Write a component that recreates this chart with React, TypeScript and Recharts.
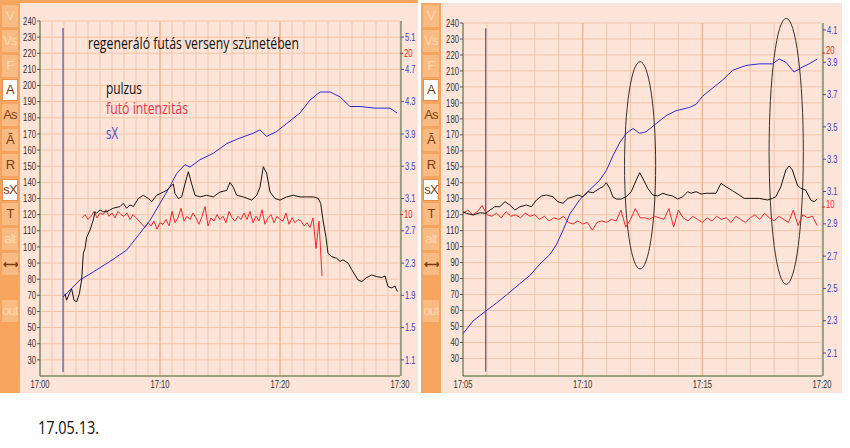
import React from "react";
import {
  ComposedChart,
  Line,
  XAxis,
  YAxis,
  CartesianGrid,
  ReferenceLine,
  ReferenceArea,
} from "recharts";

// közös tengelyek
const pulseTicks = [30, 40, 50, 60, 70, 80, 90, 100, 110, 120, 130, 140, 150, 160, 170, 180, 190, 200, 210, 220, 230, 240];
const intensityTicks = [10, 20];

// bal grafikon: 17:00 - 17:30, idő = perc 17:00 után
const leftTimeTicks = [0, 10, 20, 30];
const leftTimeLabels = ["17:00", "17:10", "17:20", "17:30"];
const leftSxTicks = [1.1, 1.5, 1.9, 2.3, 2.7, 3.1, 3.5, 3.9, 4.3, 4.7, 5.1];

const leftPulseTime = [
  2.08, 2.22, 2.44, 2.64, 2.83, 3.06, 3.28, 3.47, 3.61, 3.75,
  3.89, 4.17, 4.44, 4.58, 4.72, 5.0, 5.28, 5.56, 6.11, 6.67,
  6.94, 7.22, 7.5, 7.78, 8.19, 8.61, 9.03, 9.31, 9.72, 10.0,
  10.56, 10.83, 11.11, 11.25, 11.53, 11.81, 12.08, 12.36, 12.64, 12.92,
  13.33, 13.89, 14.44, 15.0, 15.56, 15.83, 16.11, 16.39, 16.94, 17.64,
  18.06, 18.33, 18.61, 18.89, 19.17, 19.58, 20.0, 20.56, 21.11, 21.67,
  22.22, 22.78, 23.19, 23.39, 23.58, 23.83, 24.0, 24.31, 24.72, 25.0,
  25.25, 25.67, 25.97, 26.25, 26.5, 26.81, 27.22, 27.64, 28.06, 28.47,
  28.75, 29.0, 29.31, 29.58, 29.78,
];
const leftPulse = [
  71, 67, 71, 74, 67, 66, 71, 79.5, 96, 99,
  106, 110.5, 116.7, 121.8, 120.9, 122.9, 121.8, 121.8, 124, 125,
  127, 124, 126, 125, 130, 132, 130, 128, 132, 133,
  135, 137, 139, 133, 130, 131, 139, 146.6, 139, 132,
  131, 132, 131, 134, 135, 140, 137, 132, 131, 129,
  132, 137, 149.7, 145.6, 134, 130, 129, 131, 132, 131,
  131, 131, 130, 127, 116.7, 106, 96, 94, 93, 91,
  92, 90, 86, 82.6, 79.5, 78.5, 81, 82.6, 81.6, 81,
  82, 75.4, 74.6, 75.8, 72.3,
];

const leftSxTime = [
  1.92, 3.33, 4.44, 5.83, 7.22, 8.33, 9.17, 10.0, 10.83, 11.39,
  12.08, 12.5, 13.33, 14.44, 15.56, 16.67, 17.78, 18.33, 18.89, 19.72,
  20.56, 21.67, 22.5, 23.33, 24.17, 25.0, 25.83, 26.67, 27.92, 29.17, 29.75,
];
const leftSx = [
  1.88, 2.09, 2.19, 2.32, 2.46, 2.67, 2.83, 3.04, 3.25, 3.41,
  3.52, 3.49, 3.58, 3.66, 3.78, 3.85, 3.91, 3.95, 3.87, 3.93,
  4.03, 4.16, 4.32, 4.42, 4.42, 4.36, 4.24, 4.24, 4.22, 4.22, 4.16,
];

// futó intenzitás 17:03.5-től negyedpercenként
const leftIntensityStart = 3.5;
const leftIntensityStep = 0.25;
const leftIntensity = [
  9.8, 10.0, 9.7, 9.9, 10.2, 9.8, 10.1, 10.0, 10.3, 9.9,
  10.1, 9.8, 10.2, 10.0, 9.9, 10.1, 9.7, 10.0, 9.8, 9.6,
  9.4, 9.2, 9.5, 9.3, 9.6, 9.1, 9.5, 9.4, 9.7, 9.3,
  10.2, 9.5, 9.8, 10.4, 9.6, 9.9, 9.7, 10.1, 9.8, 9.4,
  9.9, 10.5, 9.3, 9.8, 9.6, 10.0, 9.7, 9.9, 9.5, 10.2,
  9.8, 9.6, 9.9, 9.7, 10.1, 9.7, 10.2, 9.5, 9.9, 9.6,
  10.3, 9.4, 9.8, 10.0, 9.5, 9.9, 9.7, 9.6, 10.1, 9.4,
  9.8, 9.5, 9.7, 9.6, 9.3, 9.5, 9.2, 9.8, 7.9, 9.6,
  6.2,
];
const leftCursor = { t: 1.92, from: 22.5, to: 235.7 };

// jobb grafikon: 17:05 - 17:20
const rightTimeTicks = [5, 10, 15, 20];
const rightTimeLabels = ["17:05", "17:10", "17:15", "17:20"];
const rightSxTicks = [2.1, 2.3, 2.5, 2.7, 2.9, 3.1, 3.3, 3.5, 3.7, 3.9, 4.1];

const rightPulseTime = [
  5.0, 5.15, 5.43, 5.71, 5.95, 6.13, 6.33, 6.54, 6.75, 6.96,
  7.17, 7.38, 7.65, 7.86, 8.07, 8.28, 8.49, 8.76, 8.97, 9.18,
  9.39, 9.6, 9.8, 10.01, 10.22, 10.43, 10.71, 10.85, 10.99, 11.13,
  11.26, 11.4, 11.61, 11.82, 12.03, 12.24, 12.38, 12.51, 12.72, 12.93,
  13.14, 13.35, 13.56, 13.76, 13.97, 14.18, 14.39, 14.53, 14.74, 14.95,
  15.15, 15.57, 15.78, 15.99, 16.26, 16.54, 16.75, 17.03, 17.38, 17.72,
  17.93, 18.07, 18.28, 18.49, 18.63, 18.76, 18.97, 19.11, 19.32, 19.53,
  19.67, 19.8,
];
const rightPulse = [
  121.8, 120.8, 119.8, 121.2, 120.8, 122.9, 125, 125, 128.1, 126,
  122.9, 125, 126, 125, 129.2, 131.7, 132.3, 131.2, 128.1, 127.1,
  130.2, 131.2, 132.3, 131.2, 134.4, 133.7, 136.5, 137.5, 140, 136.5,
  131.2, 129.8, 129.8, 131.2, 134.4, 141.7, 146.3, 142.8, 136.5, 132.3,
  131.7, 133.4, 132.3, 131.7, 129.8, 131.2, 134.4, 133.4, 134.4, 132.9,
  133.4, 133.4, 139.6, 137.5, 135, 132.3, 130.2, 130.2, 130.2, 129.2,
  130.2, 131.2, 137.5, 148, 150.5, 148, 138.6, 136.5, 135.4, 129.2,
  128.1, 129.8,
];

const rightSxTime = [
  5.0, 5.43, 5.95, 6.4, 6.82, 7.38, 7.79, 8.21, 8.63, 8.9,
  9.18, 9.46, 9.88, 10.29, 10.71, 10.99, 11.26, 11.54, 11.82, 12.1,
  12.38, 12.65, 13.07, 13.49, 13.9, 14.46, 14.74, 15.01, 15.43, 15.85,
  16.26, 16.82, 17.38, 17.93, 18.21, 18.49, 18.83, 19.18, 19.46, 19.8,
];
const rightSx = [
  2.22, 2.3, 2.36, 2.41, 2.46, 2.53, 2.58, 2.65, 2.71, 2.77,
  2.86, 2.96, 3.05, 3.11, 3.17, 3.23, 3.32, 3.4, 3.46, 3.49,
  3.46, 3.47, 3.52, 3.57, 3.6, 3.62, 3.64, 3.69, 3.74, 3.79,
  3.85, 3.88, 3.89, 3.89, 3.92, 3.9, 3.84, 3.87, 3.89, 3.92,
];

const rightIntensityStart = 5.0;
const rightIntensityStep = 0.2;
const rightIntensity = [
  9.6, 9.8, 9.5, 9.7, 10.1, 9.5, 9.4, 9.6, 9.3, 9.7,
  9.4, 9.5, 9.3, 9.6, 9.4, 9.5, 9.2, 9.4, 9.1, 9.3,
  9.2, 9.4, 9.0, 8.9, 9.1, 8.9, 9.0, 8.5, 9.0, 9.1,
  9.0, 9.2, 9.1, 9.8, 8.7, 9.2, 9.9, 9.3, 9.3, 9.2,
  9.4, 9.3, 9.2, 9.9, 8.7, 9.8, 9.3, 9.1, 9.4, 9.2,
  9.0, 9.3, 9.1, 9.4, 9.2, 9.3, 9.0, 9.4, 9.2, 9.0,
  9.3, 9.5, 9.2, 9.6, 9.3, 9.1, 9.4, 9.2, 9.0, 9.8,
  8.8, 9.5, 9.3, 9.4, 8.8,
];
const rightCursor = { t: 5.95, from: 21.7, to: 236.7 };
const rightEllipses = [
  { t1: 11.75, t2: 13.05, p1: 86, p2: 215.8 },
  { t1: 17.79, t2: 19.22, p1: 76.4, p2: 242.9 },
];

const sideLabels = ["V", "Vs", "F", "A", "As", "Ā", "R", "sX", "T", "alt", "⟷", "out"];
const sideStates = ["off", "off", "off", "sel", "on", "on", "on", "sel", "on", "off", "on", "off"];

const PINK = "#fde4d8";
const ORANGE = "#f6a45e";
const GREEN = "#3d6b3d";
const RED = "#ee2a2a";
const BLUE = "#2c2cd8";
const TICK_FONT = "'Liberation Sans', Arial, sans-serif";
const TEXT_FONT = "'Open Sans', 'Noto Sans', sans-serif";

type Pt = { t: number; v: number };

function zip(times: number[], values: number[]): Pt[] {
  return times.map((t, i) => ({ t, v: values[i] }));
}

function sampled(start: number, step: number, values: number[]): Pt[] {
  return values.map((v, i) => ({ t: start + i * step, v }));
}

function textWidth(s: string) {
  let w = 0;
  for (const c of s) w += c >= "0" && c <= "9" ? 4.3 : 1.9;
  return w;
}

function AxisText({ x, y, anchor, dy, color, text }: any) {
  return (
    <text
      x={x}
      y={y}
      dy={dy}
      textAnchor={anchor}
      fill={color}
      fontSize={10.5}
      fontFamily={TICK_FONT}
      textLength={textWidth(text)}
      lengthAdjust="spacingAndGlyphs"
    >
      {text}
    </text>
  );
}

const yTick = (color: string, fmt: (v: number) => string, shift = 0) => (p: any) => (
  <AxisText x={p.x} y={p.y + shift} anchor={p.textAnchor} dy="0.35em" color={color} text={fmt(p.payload.value)} />
);

function Panel(props: any) {
  const {
    width, height, top, leftW, rightW, timeDomain, majors, labels, redShift,
    pulseDomain, sxDomain, sxTicks, intDomain, pulse, sx, intensity, cursor, ellipses,
  } = props;

  const minutes: number[] = [];
  for (let m = timeDomain[0]; m <= timeDomain[1]; m++) minutes.push(m);

  const timeTick = (p: any) => {
    const i = majors.indexOf(p.payload.value);
    if (i < 0) return <g />;
    return <AxisText x={p.x} y={p.y} anchor="middle" dy="0.71em" color="#333" text={labels[i]} />;
  };

  // két jobb oldali tengely egymás mellett: az intenzitás 1px széles, az sX viszi a helyet
  return (
    <ComposedChart width={width} height={height} margin={{ top, right: 6, bottom: 0, left: 0 }}>
      <CartesianGrid yAxisId="hr" stroke="#f4c6aa" />
      {majors.slice(1, -1).map((m: number) => (
        <ReferenceLine key={m} x={m} yAxisId="hr" stroke="#eeae84" />
      ))}
      <XAxis
        type="number"
        dataKey="t"
        domain={timeDomain}
        ticks={minutes}
        interval={0}
        height={17}
        tickSize={0}
        tickMargin={5}
        axisLine={{ stroke: GREEN }}
        tickLine={false}
        tick={timeTick}
      />
      <YAxis
        yAxisId="hr"
        domain={pulseDomain}
        ticks={pulseTicks}
        interval={0}
        width={leftW}
        tickSize={3}
        tickMargin={1}
        axisLine={{ stroke: GREEN }}
        tickLine={{ stroke: "#555" }}
        tick={yTick("#333", (v) => String(v))}
      />
      <YAxis
        yAxisId="int"
        orientation="right"
        domain={intDomain}
        ticks={intensityTicks}
        interval={0}
        width={1}
        tickSize={3}
        tickMargin={1}
        axisLine={false}
        tickLine={{ stroke: RED }}
        tick={yTick(RED, (v) => String(v), redShift)}
      />
      <YAxis
        yAxisId="sx"
        orientation="right"
        domain={sxDomain}
        ticks={sxTicks}
        interval={0}
        width={rightW - 1}
        tickSize={3}
        tickMargin={1}
        axisLine={{ stroke: GREEN }}
        tickLine={{ stroke: "#4646c8" }}
        tick={yTick("#3c3cd0", (v) => v.toFixed(1))}
      />
      {ellipses.map((e: any, i: number) => (
        <ReferenceArea
          key={i}
          yAxisId="hr"
          x1={e.t1}
          x2={e.t2}
          y1={e.p1}
          y2={e.p2}
          ifOverflow="visible"
          shape={(s: any) => (
            <ellipse
              cx={s.x + s.width / 2}
              cy={s.y + s.height / 2}
              rx={Math.abs(s.width) / 2}
              ry={Math.abs(s.height) / 2}
              fill="none"
              stroke="#333"
              strokeWidth={1}
            />
          )}
        />
      ))}
      <ReferenceLine
        yAxisId="hr"
        segment={[{ x: cursor.t, y: cursor.from }, { x: cursor.t, y: cursor.to }]}
        stroke="#3434a8"
      />
      <Line data={intensity} dataKey="v" yAxisId="int" type="linear" dot={false} stroke={RED} strokeWidth={1} isAnimationActive={false} />
      <Line data={sx} dataKey="v" yAxisId="sx" type="linear" dot={false} stroke={BLUE} strokeWidth={1} isAnimationActive={false} />
      <Line data={pulse} dataKey="v" yAxisId="hr" type="linear" dot={false} stroke="#151515" strokeWidth={1} isAnimationActive={false} />
    </ComposedChart>
  );
}

function Sidebar({ left, top, height }: { left: number; top: number; height: number }) {
  return (
    <div style={{ position: "absolute", left, top, width: 20, height, background: ORANGE }}>
      {sideLabels.map((label, i) => {
        const state = sideStates[i];
        const y = (i < 11 ? 5 + i * 24.8 : 300) - top;
        const sel = state === "sel";
        const arrow = label === "⟷";
        return (
          <div
            key={label}
            style={{
              position: "absolute",
              left: 2,
              top: y,
              width: sel ? 14 : 16,
              height: sel ? 20 : 22,
              background: sel ? "#ffffff" : "#f9bb84",
              border: sel ? "1px solid #e39050" : "none",
              color: state === "off" ? "#fdd6ae" : "#7c3c10",
              fontFamily: "'Liberation Sans', Arial, sans-serif",
              fontSize: arrow ? 11 : 13,
              fontWeight: arrow ? 700 : 400,
              lineHeight: sel ? "20px" : "22px",
              textAlign: "center",
              letterSpacing: arrow ? -2 : -0.8,
              overflow: "hidden",
            }}
          >
            {label}
          </div>
        );
      })}
    </div>
  );
}

export default function App() {
  return (
    <div style={{ position: "absolute", left: 0, top: 0, width: 850, height: 448, background: "#fff", overflow: "hidden" }}>
      <div style={{ position: "absolute", left: 0, top: 0, width: 418, height: 393, background: PINK }} />
      <div style={{ position: "absolute", left: 0, top: 0, width: 418, height: 3, background: ORANGE }} />
      <Sidebar left={0} top={0} height={393} />
      <div style={{ position: "absolute", left: 20, top: 3 }}>
        <Panel
          width={404}
          height={390}
          top={18}
          leftW={20}
          rightW={18}
          redShift={0}
          timeDomain={[0, 30]}
          majors={leftTimeTicks}
          labels={leftTimeLabels}
          pulseDomain={[20, 240]}
          sxDomain={[0.9, 5.3]}
          sxTicks={leftSxTicks}
          intDomain={[0, 22]}
          pulse={zip(leftPulseTime, leftPulse)}
          sx={zip(leftSxTime, leftSx)}
          intensity={sampled(leftIntensityStart, leftIntensityStep, leftIntensity)}
          cursor={leftCursor}
          ellipses={[]}
        />
      </div>

      <div style={{ position: "absolute", left: 421, top: 3, width: 421, height: 390, background: PINK }} />
      <Sidebar left={421} top={3} height={390} />
      <div style={{ position: "absolute", left: 441, top: 3 }}>
        <Panel
          width={407}
          height={390}
          top={20}
          leftW={22}
          rightW={20}
          redShift={-3}
          timeDomain={[5, 20]}
          majors={rightTimeTicks}
          labels={rightTimeLabels}
          pulseDomain={[19, 240]}
          sxDomain={[1.958, 4.143]}
          sxTicks={rightSxTicks}
          intDomain={[-0.97, 21.95]}
          pulse={zip(rightPulseTime, rightPulse)}
          sx={zip(rightSxTime, rightSx)}
          intensity={sampled(rightIntensityStart, rightIntensityStep, rightIntensity)}
          cursor={rightCursor}
          ellipses={rightEllipses}
        />
      </div>

      <svg width={850} height={448} style={{ position: "absolute", left: 0, top: 0, pointerEvents: "none" }}>
        <text x={88} y={49} fontSize={16} fontFamily={TEXT_FONT} fill="#111" textLength={211} lengthAdjust="spacingAndGlyphs">
          regeneráló futás verseny szünetében
        </text>
        <text x={106} y={94} fontSize={16} fontFamily={TEXT_FONT} fill="#111" textLength={36} lengthAdjust="spacingAndGlyphs">
          pulzus
        </text>
        <text x={106} y={114} fontSize={16} fontFamily={TEXT_FONT} fill="#e5384c" textLength={82} lengthAdjust="spacingAndGlyphs">
          futó intenzitás
        </text>
        <text x={106} y={139} fontSize={17} fontFamily={TEXT_FONT} fill="#4848c4" textLength={12} lengthAdjust="spacingAndGlyphs">
          sX
        </text>
        <text x={38} y={434} fontSize={19} fontFamily={TEXT_FONT} fill="#111" textLength={61} lengthAdjust="spacingAndGlyphs">
          17.05.13.
        </text>
      </svg>
    </div>
  );
}
